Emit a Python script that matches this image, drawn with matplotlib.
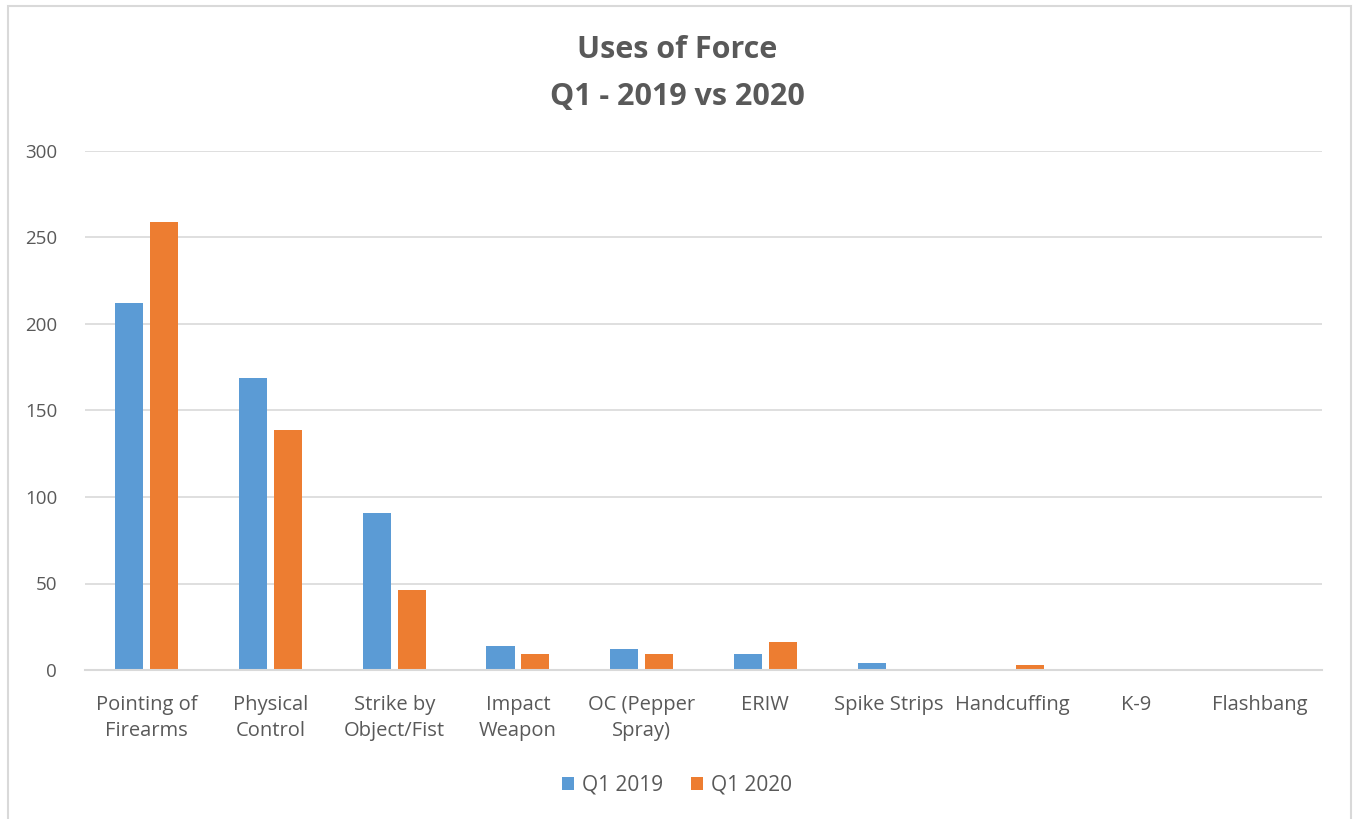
import numpy as np
import matplotlib.pyplot as plt
from matplotlib.patches import Rectangle

categories = ['Pointing of\nFirearms', 'Physical\nControl', 'Strike by\nObject/Fist', 'Impact\nWeapon',
              'OC (Pepper\nSpray)', 'ERIW', 'Spike Strips', 'Handcuffing', 'K-9', 'Flashbang']
q1_2019 = [212, 169, 91, 14, 12, 9, 4, 0, 0, 0]
q1_2020 = [259, 139, 46, 9, 9, 16, 0, 3, 0, 0]

plt.rcParams['font.family'] = ['Open Sans', 'DejaVu Sans']

fig = plt.figure(figsize=(13.54, 8.19), dpi=100)
ax = fig.add_axes([85 / 1354, 1 - 670 / 819, (1322 - 85) / 1354, (670 - 151) / 819])

x = np.arange(len(categories))
w = 0.227
gap = 0.055
ax.bar(x - (w + gap) / 2, q1_2019, width=w, color='#5B9BD5', label='Q1 2019', zorder=3)
ax.bar(x + (w + gap) / 2, q1_2020, width=w, color='#ED7D31', label='Q1 2020', zorder=3)

ax.set_xlim(-0.5, len(categories) - 0.5)
ax.set_ylim(0, 300)
ax.set_yticks(np.arange(0, 301, 50))
ax.grid(axis='y', color='#D9D9D9', linewidth=1.2, zorder=0)
for s in ['top', 'right', 'left']:
    ax.spines[s].set_visible(False)
ax.spines['bottom'].set_color('#D9D9D9')
ax.spines['bottom'].set_linewidth(1.5)
ax.spines['bottom'].set_zorder(4)

ax.set_xticks(x)
ax.set_xticklabels(categories, fontsize=14.5, color='#595959', linespacing=1.4)
ax.tick_params(axis='x', length=0, pad=18)
ax.tick_params(axis='y', length=0, pad=20, labelsize=13.5, labelcolor='#595959')

fig.text(0.5, 1 - 50 / 819, 'Uses of Force', ha='center', va='center', fontsize=22,
         fontweight='bold', color='#595959')
fig.text(0.5, 1 - 97 / 819, 'Q1 - 2019 vs 2020', ha='center', va='center', fontsize=22,
         fontweight='bold', color='#595959')

fig.legend(loc='center', bbox_to_anchor=(0.5, 1 - 785 / 819), ncol=2, frameon=False,
           fontsize=15, labelcolor='#595959', handlelength=0.6, handleheight=0.6,
           columnspacing=1.3, handletextpad=0.4)

fig.patches.append(Rectangle((8 / 1354, -0.01), 1343 / 1354, 1 - 6 / 819 + 0.01,
                             transform=fig.transFigure, fill=False,
                             edgecolor='#D9D9D9', linewidth=1.5))

fig.savefig('out.png', dpi=100)
